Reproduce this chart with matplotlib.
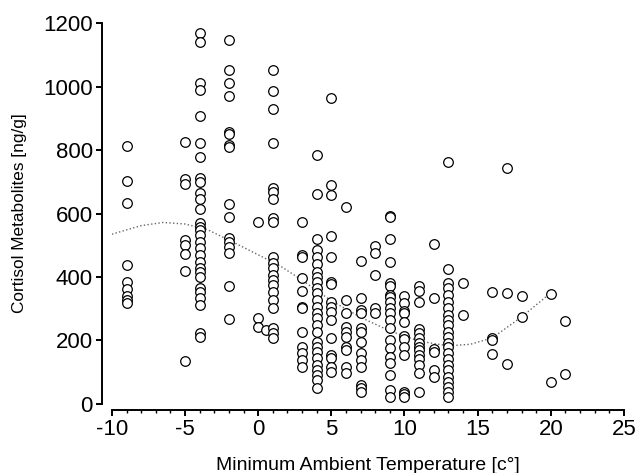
import numpy as np
import matplotlib
matplotlib.use('Agg')
import matplotlib.pyplot as plt
import matplotlib.ticker as mticker

plt.rcParams['font.family'] = ['Liberation Sans', 'DejaVu Sans']
plt.rcParams['axes.unicode_minus'] = False

# cortisol metabolites [ng/g] per minimum ambient temperature [c°]
temp_m9 = [813, 702, 632, 438, 385, 361, 341, 328, 319]
temp_m5 = [826, 709, 692, 517, 501, 472, 420, 136]
temp_m4 = [1170, 1141, 1013, 989, 907, 821, 777, 711, 700, 666, 646, 613,
           569, 559, 548, 532, 511, 490, 469, 448, 427, 417, 401, 364, 354,
           333, 312, 225, 212]
temp_m2 = [1148, 1052, 1012, 970, 858, 852, 816, 810, 630, 590, 522, 509,
           496, 475, 372, 267]
temp_0 = [573, 270, 243]
temp_05 = [233]
temp_1 = [1052, 986, 928, 821, 679, 669, 645, 586, 573, 464, 443, 427, 406,
          390, 375, 354, 328, 301, 238, 223, 207]
temp_3 = [574, 469, 462, 396, 357, 306, 301, 228, 181, 160, 137, 118]
temp_4 = [786, 661, 519, 485, 464, 441, 417, 401, 385, 364, 349, 328, 306,
          288, 270, 249, 228, 196, 181, 165, 144, 123, 107, 91, 76, 49]
temp_5 = [964, 690, 658, 529, 462, 385, 378, 322, 306, 291, 265, 207, 154,
          144, 118, 102]
temp_6 = [621, 328, 286, 244, 228, 212, 181, 170, 118, 97]
temp_7 = [450, 333, 296, 288, 238, 228, 196, 160, 139, 118, 60, 49, 39]
temp_8 = [498, 477, 406, 301, 286]
temp_9 = [592, 590, 519, 448, 382, 372, 343, 338, 322, 301, 286, 265, 238,
          202, 175, 149, 128, 91, 44, 23]
temp_10 = [340, 319, 294, 286, 259, 214, 204, 181, 154, 39, 31, 23]
temp_11 = [372, 357, 322, 235, 223, 207, 193, 181, 170, 154, 141, 123, 97, 39]
temp_12 = [504, 335, 172, 165, 107, 86]
temp_13 = [763, 424, 380, 364, 343, 322, 301, 280, 265, 249, 228, 212, 191,
           181, 160, 141, 123, 107, 86, 70, 54, 39, 23]
temp_14 = [380, 280]
temp_16 = [354, 209, 202, 157]
temp_17 = [745, 349, 126]
temp_18 = [341, 275]
temp_20 = [345, 70]
temp_21 = [262, 94]

groups = {
    -9: temp_m9, -5: temp_m5, -4: temp_m4, -2: temp_m2, 0: temp_0,
    0.5: temp_05, 1: temp_1, 3: temp_3, 4: temp_4, 5: temp_5, 6: temp_6,
    7: temp_7, 8: temp_8, 9: temp_9, 10: temp_10, 11: temp_11, 12: temp_12,
    13: temp_13, 14: temp_14, 16: temp_16, 17: temp_17, 18: temp_18,
    20: temp_20, 21: temp_21,
}

# fitted trend
fit_x = [-10, -8, -6.5, -5, -3.5, -1.5, 0, 1.5, 3, 5, 7, 9, 11, 13, 14.5,
         16, 18, 20]
fit_y = [535, 562, 572, 567, 550, 505, 470, 435, 390, 325, 273, 230, 198,
         183, 188, 208, 274, 350]

xs = np.concatenate([[t] * len(v) for t, v in groups.items()])
ys = np.concatenate([v for v in groups.values()])

fig = plt.figure(figsize=(6.36, 4.73), dpi=100)
ax = fig.add_axes((0.176, 0.146, 0.805, 0.805))

ax.plot(fit_x, fit_y, linestyle=':', color='#666666', linewidth=1.0, zorder=1)
ax.scatter(xs, ys, s=48, facecolors='white', edgecolors='black',
           linewidths=0.9, zorder=2, clip_on=False)

ax.set_xlim(-10, 25)
ax.set_ylim(0, 1200)
ax.xaxis.set_major_locator(mticker.MultipleLocator(5))
ax.xaxis.set_minor_locator(mticker.MultipleLocator(1))
ax.yaxis.set_major_locator(mticker.MultipleLocator(200))

for side in ('top', 'right'):
    ax.spines[side].set_visible(False)
# offsets in points (10 px / 6 px at 100 dpi)
ax.spines['left'].set_position(('outward', 7.2))
ax.spines['bottom'].set_position(('outward', 4.3))
for side in ('left', 'bottom'):
    ax.spines[side].set_linewidth(1.4)

ax.tick_params(axis='both', which='major', direction='out', length=4.5,
               width=1.4, labelsize=16, pad=2)
ax.tick_params(axis='x', which='minor', direction='out', length=2.5, width=1.0)

ax.set_xlabel('Minimum Ambient Temperature [c°]', fontsize=14, labelpad=12)
ax.set_ylabel('Cortisol Metabolites [ng/g]', fontsize=12.4, labelpad=12)

plt.savefig('out.png', dpi=100)
plt.close()
